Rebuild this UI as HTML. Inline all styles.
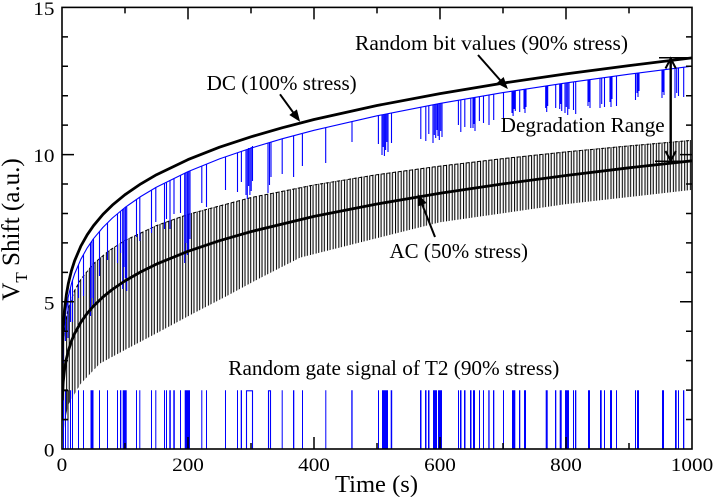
<!DOCTYPE html>
<html><head><meta charset="utf-8"><style>
html,body{margin:0;padding:0;background:#fff;}
svg{display:block}
text{font-family:"Liberation Serif","Times New Roman",serif;fill:#000}
</style></head><body>
<svg width="714" height="497" viewBox="0 0 714 497" xmlns="http://www.w3.org/2000/svg">
<defs>
<clipPath id="cp"><rect x="62" y="7.4" width="630" height="441.6"/></clipPath>
<pattern id="acp" patternUnits="userSpaceOnUse" width="5.67" height="10"><path d="M1.2,0V10M4.3,0V10" stroke="#000" stroke-width="1.05" fill="none"/></pattern>
</defs>
<rect x="0" y="0" width="714" height="497" fill="#fff"/>
<g clip-path="url(#cp)">
<!-- AC oscillation band -->
<path fill="url(#acp)" stroke="none" d="M62.3,364.1L62.63,353.5L63.26,341.5L65.15,323.4L68.3,307.7L74.6,290L80.9,278.7L93.5,263.2L109.25,250L125,240L156.5,225.1L188,213.9L251,197.1L314,184.5L377,174.2L440,165.6L503,158.1L566,151.4L629,145.4L692,139.9L692,189.9L566,204.1L440,222.3L300.1,257.6L259.8,278.2L227.1,295.9L193,313.6L160.3,331.2L126.9,348.9L99.8,363.6L80.3,384.2L68.3,404.8L65.15,419.6L63.26,434.3L62.3,443.1Z"/>
<path fill="none" stroke="#000" stroke-width="1" stroke-dasharray="3.2 2.47" d="M62.3,364.6L62.63,354L63.26,342L65.15,323.9L68.3,308.2L74.6,290.5L80.9,279.2L93.5,263.7L109.25,250.5L125,240.5L156.5,225.6L188,214.4L251,197.6L314,185L377,174.7L440,166.1L503,158.6L566,151.9L629,145.9L692,140.4"/>
<!-- blue base -->
<path fill="none" stroke="#0000ff" stroke-width="1.1" stroke-linejoin="round" d="M62.05,400L62.3,365.3L62.63,352.9L63.26,338.6L64.52,322.1L66.41,307.1L68.3,296.6L71.45,283.7L74.6,273.9L80.9,259.2L87.2,247.9L93.5,238.7L102.95,227.4L112.4,218L125,207.5L140.75,196.5L156.5,187.1L188,171.6L219.5,158.9L251,148.1L282.5,138.7L314,130.3L377,115.8L440,103.4L503,92.6L566,82.9L629,74.2L692,66.2"/>
<!-- blue spikes -->
<path fill="none" stroke="#0000ff" stroke-width="1.1" d="M63.4,337V363M65.4,315V341M68,298V338M70.5,288V322M72.5,280V322M78.5,265V298M83.5,255V296M90.5,243V316M92,241V298M93.5,239V306M99.5,231V276M107.5,223V260M117.5,214V263M120.6,211V253M122.7,209V289M124,208V267M125.4,207V278M126.7,207V291M136.5,199V237M139.8,197V241M151.5,190V233M155.8,187V222M164.5,183V229M166.5,182V219M170,180V229M174,178V214M180.5,175V213M184.7,173V263M186,173V243M187.4,172V255M188.7,171V252M190,171V239M201.8,166V203M206.5,164V207M225.5,157V190M237.5,153V192M241.4,151V182M246,150V195M247.3,149V199M248.6,148V186M249.9,148V195M251.2,147V191M252.5,146V181M268,143V193M269.5,143V185M271,142V177M282.2,139V174M293.6,136V177M302.4,134V166M325.7,128V163M352,122V142M378.4,115V144M382,115V155M383.2,115V147M384.4,114V156M385.6,114V150M386.8,114V142M388,114V152M391.5,113V143M420.8,107V139M425.8,106V141M428.8,106V134M433,105V143M434.3,105V135M435.7,104V138M437,104V130M438,104V136M439.3,104V140M440.7,103V131M442,103V137M458.4,100V125M460.8,100V132M464.8,99V127M470.8,98V128M473,98V128M474,98V124M475,97V131M479.4,97V121M483.5,96V123M489,95V125M493.7,94V120M503.5,93V119M512,91V113M513.1,91V116M514.2,91V109M515.3,91V111M519.7,90V112M524,89V109M525,89V113M526,89V107M545.7,86V108M546.7,86V112M547.7,86V106M555.7,84V108M559.7,84V109M560.7,84V104M561.7,84V111M565,83V113M566.3,83V107M567.7,83V115M569,83V109M573.5,82V110M575.7,82V114M588,80V106M589,80V102M590,80V108M600,78V108M601.7,78V104M604.5,78V107M610,77V102M611,77V107M612,77V99M616.5,76V106M635.5,73V100M637,73V93M638,73V97M639,73V91M662,70V98M663,70V92M664,70V95M675,68V98M676.7,68V93M678.5,68V96M683.7,67V97"/>
<!-- gate bars -->
<path fill="#0000ff" stroke="none" d="M63,449V390.3h1V449ZM65,449V390.3h1V449ZM67.5,449V390.3h1V449ZM70,449V390.3h1V449ZM72,449V390.3h1V449ZM78,449V390.3h1V449ZM83,449V390.3h1V449ZM90.5,449V390.3h3V449ZM99,449V390.3h1V449ZM107,449V390.3h1V449ZM117,449V390.3h1V449ZM120,449V390.3h1.3V449ZM122.7,449V390.3h4V449ZM136,449V390.3h1V449ZM139.3,449V390.3h1V449ZM151,449V390.3h1V449ZM155.3,449V390.3h1V449ZM164,449V390.3h1V449ZM166,449V390.3h1V449ZM169.3,449V390.3h1.5V449ZM173.3,449V390.3h1.5V449ZM180,449V390.3h1V449ZM184.7,449V390.3h5.3V449ZM201.3,449V390.3h1V449ZM206,449V390.3h1V449ZM225,449V390.3h1V449ZM237,449V390.3h1V449ZM240.7,449V390.3h1.3V449ZM281.7,449V390.3h1V449ZM293,449V390.3h1.3V449ZM302,449V390.3h1V449ZM325.3,449V390.3h1V449ZM351.3,449V390.3h1.3V449ZM378,449V390.3h1V449ZM382,449V390.3h6V449ZM390.7,449V390.3h1.5V449ZM420,449V390.3h1.5V449ZM425,449V390.3h1.5V449ZM428,449V390.3h1.5V449ZM433,449V390.3h4V449ZM438,449V390.3h4V449ZM458,449V390.3h1V449ZM460,449V390.3h1.5V449ZM464,449V390.3h1.5V449ZM470,449V390.3h1.5V449ZM473,449V390.3h2V449ZM479,449V390.3h1V449ZM483,449V390.3h1V449ZM488.3,449V390.3h1.3V449ZM493,449V390.3h1.3V449ZM503,449V390.3h1V449ZM512,449V390.3h3.3V449ZM519,449V390.3h1.3V449ZM524,449V390.3h2V449ZM545.7,449V390.3h2V449ZM555,449V390.3h1.3V449ZM559.7,449V390.3h2V449ZM565,449V390.3h4V449ZM573,449V390.3h1V449ZM575,449V390.3h1.3V449ZM588,449V390.3h2V449ZM600,449V390.3h1.7V449ZM604,449V390.3h1V449ZM610,449V390.3h2V449ZM616,449V390.3h1V449ZM635,449V390.3h1V449ZM637,449V390.3h2V449ZM662,449V390.3h2V449ZM675,449V390.3h1.7V449ZM678,449V390.3h1V449ZM683,449V390.3h1.3V449Z"/>
<rect x="246.5" y="390.8" width="6" height="58.2" fill="none" stroke="#0000ff" stroke-width="1.1"/>
<rect x="268.5" y="390.8" width="2" height="58.2" fill="none" stroke="#0000ff" stroke-width="1.1"/>
<rect x="62.5" y="390.8" width="5.5" height="29" fill="none" stroke="#000" stroke-width="1"/>
<!-- DC curve -->
<path fill="none" stroke="#000" stroke-width="2.8" stroke-linejoin="round" d="M62.06,379.2L62.3,354.6L62.63,341.5L63.26,326.7L64.52,309.7L66.41,294.4L68.3,283.7L71.45,270.7L74.6,260.8L80.9,246L87.2,234.8L93.5,225.7L102.95,214.4L112.4,205.1L125,194.7L140.75,183.9L156.5,174.7L188,159.6L219.5,147.2L251,136.8L282.5,127.7L314,119.5L377,105.5L440,93.6L503,83.1L566,73.9L629,65.6L692,57.9"/>
<!-- AC smooth -->
<path fill="none" stroke="#000" stroke-width="2.8" stroke-linejoin="round" d="M62.3,400.3L62.63,391.8L63.26,381.7L64.52,369.8L66.41,358.8L68.3,350.9L71.45,341.1L74.6,333.6L80.9,322.2L87.2,313.3L93.5,306.1L102.95,297L112.4,289.4L125,280.9L140.75,271.9L156.5,264.1L188,251.3L219.5,240.7L251,231.6L314,216.4L377,204L440,193.3L503,183.9L566,175.5L629,167.8L692,160.8"/>
</g>

<!-- ticks -->
<path fill="none" stroke="#000" stroke-width="1.5" d="M125,449V443M188,449V437M251,449V443M314,449V437M377,449V443M440,449V437M503,449V443M566,449V437M629,449V443M125,7.4V13.4M188,7.4V19.4M251,7.4V13.4M314,7.4V19.4M377,7.4V13.4M440,7.4V19.4M503,7.4V13.4M566,7.4V19.4M629,7.4V13.4M62,419.56H68M62,390.12H68M62,360.68H68M62,331.24H68M62,301.8H74M62,272.36H68M62,242.92H68M62,213.48H68M62,184.04H68M62,154.6H74M62,125.16H68M62,95.72H68M62,66.28H68M62,36.84H68M692,419.56H686M692,390.12H686M692,360.68H686M692,331.24H686M692,301.8H680M692,272.36H686M692,242.92H686M692,213.48H686M692,184.04H686M692,154.6H680M692,125.16H686M692,95.72H686M692,66.28H686M692,36.84H686"/>
<rect x="62" y="7.4" width="630" height="441.6" fill="none" stroke="#000" stroke-width="1.6"/>

<!-- Y tick labels -->
<text x="43.9" y="456.5" font-size="19" textLength="10.6" lengthAdjust="spacingAndGlyphs">0</text>
<text x="43.9" y="309.3" font-size="19" textLength="10.6" lengthAdjust="spacingAndGlyphs">5</text>
<text x="33.3" y="162.1" font-size="19" textLength="21.2" lengthAdjust="spacingAndGlyphs">10</text>
<text x="33.3" y="14.9" font-size="19" textLength="21.2" lengthAdjust="spacingAndGlyphs">15</text>
<!-- X tick labels -->
<text x="56.7" y="471" font-size="19" textLength="10.6" lengthAdjust="spacingAndGlyphs">0</text>
<text x="172.1" y="471" font-size="19" textLength="31.8" lengthAdjust="spacingAndGlyphs">200</text>
<text x="298.1" y="471" font-size="19" textLength="31.8" lengthAdjust="spacingAndGlyphs">400</text>
<text x="424.1" y="471" font-size="19" textLength="31.8" lengthAdjust="spacingAndGlyphs">600</text>
<text x="550.1" y="471" font-size="19" textLength="31.8" lengthAdjust="spacingAndGlyphs">800</text>
<text x="670.8" y="471" font-size="19" textLength="42.4" lengthAdjust="spacingAndGlyphs">1000</text>

<!-- Axis titles -->
<text x="335" y="492" font-size="24" textLength="83" lengthAdjust="spacingAndGlyphs">Time (s)</text>
<text transform="translate(19,229.5) rotate(-90)" font-size="25" text-anchor="middle">V<tspan font-size="17" dy="8">T</tspan><tspan dy="-8"> Shift (a.u.)</tspan></text>

<!-- Annotations -->
<text x="206.7" y="90" font-size="21" textLength="150" lengthAdjust="spacingAndGlyphs">DC (100% stress)</text>
<text x="355" y="50" font-size="21" textLength="273" lengthAdjust="spacingAndGlyphs">Random bit values (90% stress)</text>
<text x="500.7" y="132" font-size="21" textLength="164" lengthAdjust="spacingAndGlyphs">Degradation Range</text>
<text x="389.5" y="258" font-size="21" textLength="138.5" lengthAdjust="spacingAndGlyphs">AC (50% stress)</text>
<text x="228.3" y="375" font-size="21" textLength="331" lengthAdjust="spacingAndGlyphs">Random gate signal of T2 (90% stress)</text>

<!-- Arrows -->
<g stroke="#000" stroke-width="2" fill="#000">
<line x1="280" y1="94.3" x2="296" y2="116.3"/>
<polygon points="299.3,120.7 290.2,114.96 296.6,110.24" stroke-width="1"/>
<line x1="478" y1="55" x2="504" y2="84.5"/>
<polygon points="507,88 497.4,83.1 503.4,77.9" stroke-width="1"/>
<line x1="435" y1="237" x2="420" y2="199"/>
<polygon points="418.3,195 425.7,202.8 418.3,205.8" stroke-width="1"/>
</g>
<g stroke="#000" fill="none">
<line x1="670.7" y1="58.5" x2="670.7" y2="160.5" stroke-width="2.4"/>
<polyline points="665.5,68.5 670.7,58.5 675.9,68.5" stroke-width="2"/>
<polyline points="665.5,151 670.7,161 675.9,151" stroke-width="2"/>
<line x1="659" y1="57.7" x2="692" y2="57.7" stroke-width="1.5"/>
<line x1="655" y1="161.3" x2="692" y2="161.3" stroke-width="1.5"/>
</g>
</svg>
</body></html>
